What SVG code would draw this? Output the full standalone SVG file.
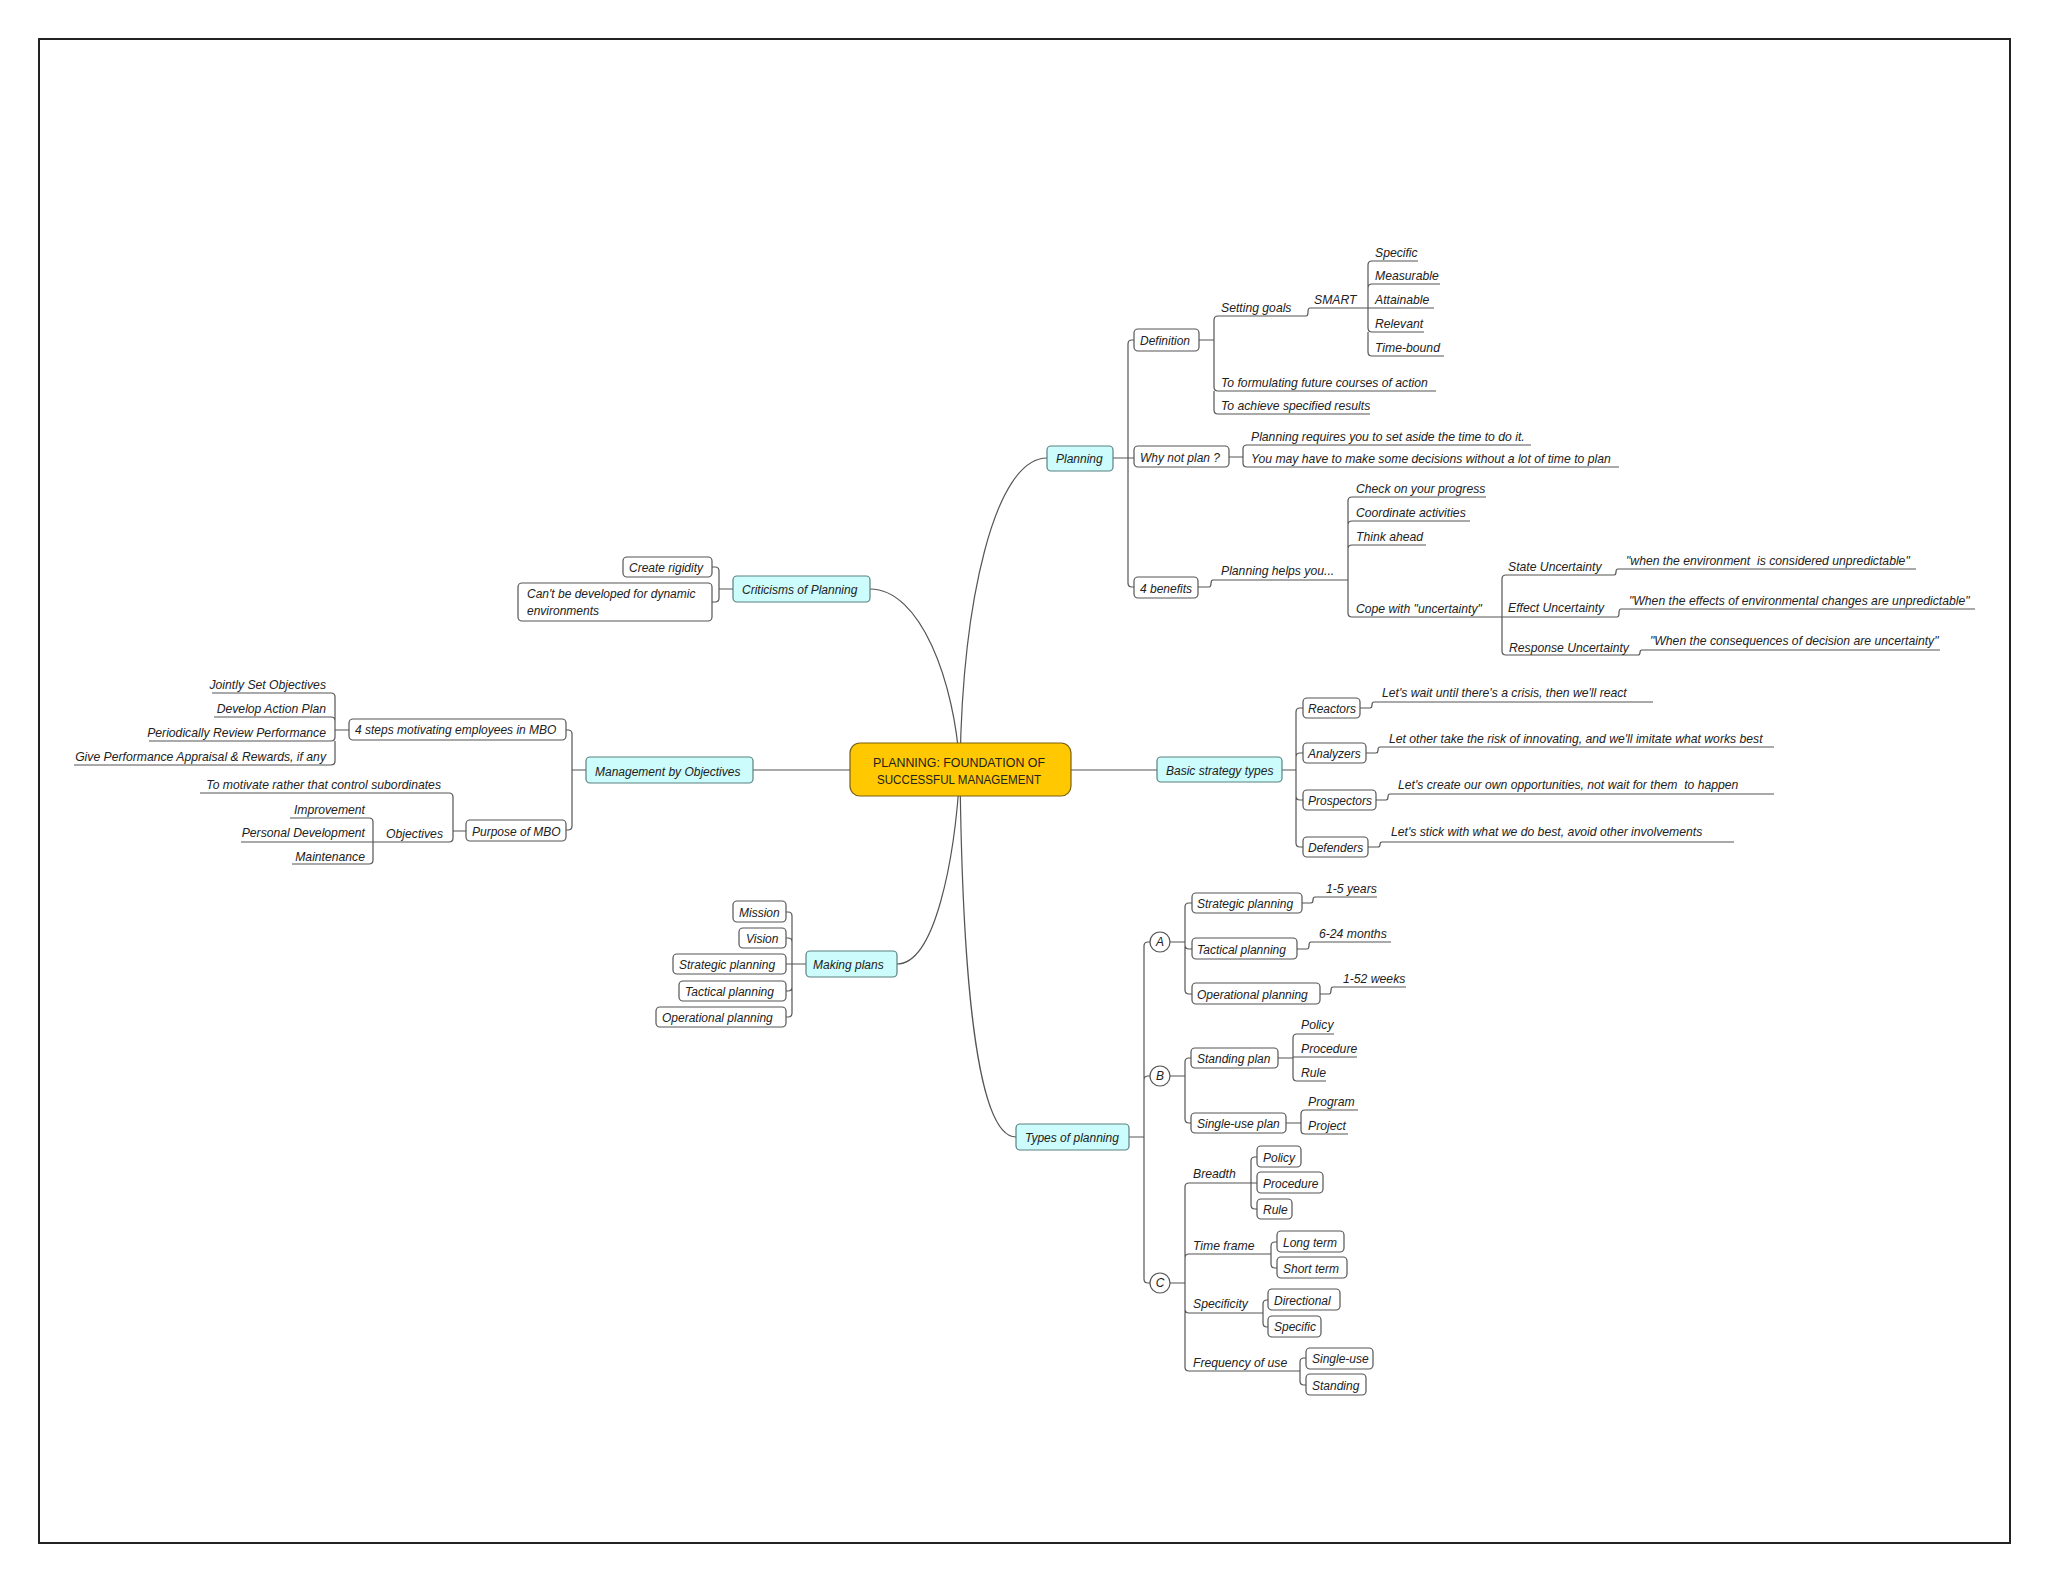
<svg xmlns="http://www.w3.org/2000/svg" width="2048" height="1582" viewBox="0 0 2048 1582">
<style>
.ln{fill:none;stroke:#555;stroke-width:1.2}
.bx{fill:#fff;stroke:#555;stroke-width:1.2}
.l1{fill:#ccfcfc;stroke:#5b8080;stroke-width:1.2}
.t{font-family:"Liberation Sans",Arial,sans-serif;font-size:12px;font-style:italic;fill:#222}
.u{font-size:12.2px}
.e{text-anchor:end}
.c{text-anchor:middle}
.ctr{font-family:"Liberation Sans",Arial,sans-serif;font-size:12.5px;fill:#222;text-anchor:middle}
</style>
<rect x="0" y="0" width="2048" height="1582" fill="#fff"/>
<rect x="39" y="39" width="1971" height="1504" fill="none" stroke="#222" stroke-width="2"/>
<g id="connectors" class="ln">
<path d="M1047,458 C995,458 962,600 960,770"/>
<path d="M870,589 C920,589 955,680 960,770"/>
<path d="M897,964 C935,964 955,860 960,770"/>
<path d="M960,770 C962,960 975,1137 1016,1137"/>
<path d="M753,770 H850"/>
<path d="M1071,770 H1157"/>
<path d="M1113,458 H1134 M1128,458 V344 Q1128,340 1132,340 H1134 M1128,458 V583 Q1128,587 1132,587 H1134"/>
<path d="M1199,340 H1214 M1214,340 V320 Q1214,316 1218,316 H1306 C1310,316 1306,308 1310,308 H1368 M1214,340 V387 Q1214,391 1218,391 H1436 M1214,391 V410 Q1214,414 1218,414 H1370"/>
<path d="M1368,308 V265 Q1368,261 1372,261 H1418 M1368,308 V288 Q1368,284 1372,284 H1440 M1368,308 H1434 M1368,308 V328 Q1368,332 1372,332 H1424 M1368,332 V352 Q1368,356 1372,356 H1444"/>
<path d="M1229,457 H1243 M1243,457 V449 Q1243,445 1247,445 H1531 M1243,457 V463 Q1243,467 1247,467 H1619"/>
<path d="M1198,587 H1209 C1213,587 1209,580 1213,580 H1348 M1348,580 V501 Q1348,497 1352,497 H1486 M1348,580 V525 Q1348,521 1352,521 H1470 M1348,580 V549 Q1348,545 1352,545 H1426 M1348,580 V613 Q1348,617 1352,617 H1502"/>
<path d="M1502,617 V579 Q1502,575 1506,575 H1614 C1618,575 1614,569 1618,569 H1916 M1502,617 H1617 C1621,617 1617,609 1621,609 H1975 M1502,617 V651 Q1502,655 1506,655 H1638 C1642,655 1638,650 1642,650 H1940"/>
<path d="M733,589 H719 M719,589 V571 Q719,567 715,567 H712 M719,589 V598 Q719,602 715,602 H712"/>
<path d="M586,770 H572 M572,770 V734 Q572,730 568,730 H566 M572,770 V826 Q572,830 568,830 H566"/>
<path d="M349,730 H335 M335,730 V697 Q335,693 331,693 H212 M335,730 V721 Q335,717 331,717 H214 M335,730 V737 Q335,741 331,741 H149 M335,741 V761 Q335,765 331,765 H74"/>
<path d="M466,831 H453 M453,831 V797 Q453,793 449,793 H200 M453,831 V838 Q453,842 449,842 H241 M373,842 V822 Q373,818 369,818 H290 M373,842 V860 Q373,864 369,864 H292"/>
<path d="M806,964 H786 M792,964 V916 Q792,912 788,912 H786 M792,964 V942 Q792,938 788,938 H786 M792,964 V987 Q792,991 788,991 H786 M792,964 V1013 Q792,1017 788,1017 H786"/>
<path d="M1282,770 H1296 M1296,770 V712 Q1296,708 1300,708 H1303 M1296,770 V757 Q1296,753 1300,753 H1303 M1296,770 V796 Q1296,800 1300,800 H1303 M1296,770 V843 Q1296,847 1300,847 H1303"/>
<path d="M1360,708 H1370 C1374,708 1370,702 1374,702 H1653 M1366,753 H1376 C1380,753 1376,747 1380,747 H1774 M1376,800 H1386 C1390,800 1386,794 1390,794 H1774 M1368,847 H1378 C1382,847 1378,842 1382,842 H1734"/>
<path d="M1129,1137 H1144 M1144,1137 V946 Q1144,942 1148,942 H1150 M1144,1137 V1080 Q1144,1076 1148,1076 H1150 M1144,1137 V1279 Q1144,1283 1148,1283 H1150"/>
<path d="M1170,942 H1185 M1185,942 V907 Q1185,903 1189,903 H1192 M1185,942 V945 Q1185,949 1189,949 H1192 M1185,942 V990 Q1185,994 1189,994 H1192"/>
<path d="M1302,903 H1311 C1315,903 1311,897 1315,897 H1377 M1297,949 H1307 C1311,949 1307,942 1311,942 H1391 M1320,994 H1329 C1333,994 1329,987 1333,987 H1406"/>
<path d="M1170,1076 H1185 M1185,1076 V1062 Q1185,1058 1189,1058 H1191 M1185,1076 V1119 Q1185,1123 1189,1123 H1191"/>
<path d="M1278,1058 H1293 M1293,1058 V1038 Q1293,1034 1297,1034 H1334 M1293,1057 H1357 M1293,1057 V1077 Q1293,1081 1297,1081 H1326"/>
<path d="M1286,1123 H1301 M1301,1123 V1114 Q1301,1110 1305,1110 H1358 M1301,1123 V1130 Q1301,1134 1305,1134 H1348"/>
<path d="M1170,1283 H1185 M1185,1283 V1187 Q1185,1183 1189,1183 H1251 M1185,1283 V1258 Q1185,1254 1189,1254 H1271 M1185,1283 V1309 Q1185,1313 1189,1313 H1263 M1185,1283 V1367 Q1185,1371 1189,1371 H1300"/>
<path d="M1251,1183 V1161 Q1251,1157 1255,1157 H1257 M1251,1183 H1257 M1251,1183 V1205 Q1251,1209 1255,1209 H1257"/>
<path d="M1271,1254 V1246 Q1271,1242 1275,1242 H1277 M1271,1254 V1264 Q1271,1268 1275,1268 H1277"/>
<path d="M1263,1313 V1304 Q1263,1300 1267,1300 H1268 M1263,1313 V1323 Q1263,1327 1267,1327 H1268"/>
<path d="M1300,1371 V1362 Q1300,1358 1304,1358 H1306 M1300,1371 V1381 Q1300,1385 1304,1385 H1306"/>
</g>

<g id="center">
<rect x="850" y="743" width="221" height="53" rx="10" fill="#ffc800" stroke="#7a6010" stroke-width="1.2"/>
<text class="ctr" x="959" y="767" textLength="172" lengthAdjust="spacingAndGlyphs">PLANNING: FOUNDATION OF</text>
<text class="ctr" x="959" y="784" textLength="164" lengthAdjust="spacingAndGlyphs">SUCCESSFUL MANAGEMENT</text>
</g>

<g id="planning"><rect class="l1" x="1047" y="446" width="66" height="25" rx="4"/><text class="t" x="1056" y="463">Planning</text></g>
<g id="definition"><rect class="bx" x="1134" y="329" width="65" height="22" rx="4"/><text class="t" x="1140" y="345">Definition</text></g>
<g id="setting-goals"><text class="t u" x="1221" y="312">Setting goals</text></g>
<g id="smart"><text class="t u" x="1314" y="304">SMART</text></g>
<g id="specific"><text class="t u" x="1375" y="257">Specific</text></g>
<g id="measurable"><text class="t u" x="1375" y="280">Measurable</text></g>
<g id="attainable"><text class="t u" x="1375" y="304">Attainable</text></g>
<g id="relevant"><text class="t u" x="1375" y="328">Relevant</text></g>
<g id="time-bound"><text class="t u" x="1375" y="352">Time-bound</text></g>
<g id="formulating"><text class="t u" x="1221" y="387">To formulating future courses of action</text></g>
<g id="achieve"><text class="t u" x="1221" y="410">To achieve specified results</text></g>
<g id="why-not"><rect class="bx" x="1134" y="446" width="95" height="21" rx="4"/><text class="t" x="1140" y="462">Why not plan ?</text></g>
<g id="requires"><text class="t u" x="1251" y="441">Planning requires you to set aside the time to do it.</text></g>
<g id="may-have"><text class="t u" x="1251" y="463">You may have to make some decisions without a lot of time to plan</text></g>
<g id="benefits"><rect class="bx" x="1134" y="577" width="64" height="21" rx="4"/><text class="t" x="1140" y="593">4 benefits</text></g>
<g id="helps"><text class="t u" x="1221" y="575">Planning helps you...</text></g>
<g id="check"><text class="t u" x="1356" y="493">Check on your progress</text></g>
<g id="coordinate"><text class="t u" x="1356" y="517">Coordinate activities</text></g>
<g id="think"><text class="t u" x="1356" y="541">Think ahead</text></g>
<g id="cope"><text class="t u" x="1356" y="613">Cope with "uncertainty"</text></g>
<g id="state-u"><text class="t u" x="1508" y="571">State Uncertainty</text></g>
<g id="state-q"><text class="t u" x="1626" y="565" xml:space="preserve">"when the environment  is considered unpredictable"</text></g>
<g id="effect-u"><text class="t u" x="1508" y="612">Effect Uncertainty</text></g>
<g id="effect-q"><text class="t u" x="1629" y="605">"When the effects of environmental changes are unpredictable"</text></g>
<g id="response-u"><text class="t u" x="1509" y="652">Response Uncertainty</text></g>
<g id="response-q"><text class="t u" x="1650" y="645">"When the consequences of decision are uncertainty"</text></g>

<g id="criticisms"><rect class="l1" x="733" y="576" width="137" height="26" rx="4"/><text class="t" x="742" y="594">Criticisms of Planning</text></g>
<g id="rigidity"><rect class="bx" x="623" y="557" width="89" height="20" rx="4"/><text class="t" x="629" y="572">Create rigidity</text></g>
<g id="dynamic"><rect class="bx" x="518" y="583" width="194" height="38" rx="4"/><text class="t" x="527" y="598">Can't be developed for dynamic</text><text class="t" x="527" y="615">environments</text></g>

<g id="mbo"><rect class="l1" x="586" y="757" width="167" height="26" rx="4"/><text class="t" x="595" y="776">Management by Objectives</text></g>
<g id="four-steps"><rect class="bx" x="349" y="719" width="217" height="21" rx="4"/><text class="t" x="355" y="734">4 steps motivating employees in MBO</text></g>
<g id="jointly"><text class="t u e" x="326" y="689">Jointly Set Objectives</text></g>
<g id="develop"><text class="t u e" x="326" y="713">Develop Action Plan</text></g>
<g id="review"><text class="t u e" x="326" y="737">Periodically Review Performance</text></g>
<g id="appraisal"><text class="t u e" x="326" y="761">Give Performance Appraisal &amp; Rewards, if any</text></g>
<g id="purpose"><rect class="bx" x="466" y="820" width="100" height="21" rx="4"/><text class="t" x="472" y="836">Purpose of MBO</text></g>
<g id="motivate"><text class="t u e" x="441" y="789">To motivate rather that control subordinates</text></g>
<g id="objectives"><text class="t u e" x="443" y="838">Objectives</text></g>
<g id="improvement"><text class="t u e" x="365" y="814">Improvement</text></g>
<g id="personal"><text class="t u e" x="365" y="837">Personal Development</text></g>
<g id="maintenance"><text class="t u e" x="365" y="861">Maintenance</text></g>

<g id="making"><rect class="l1" x="806" y="951" width="91" height="26" rx="4"/><text class="t" x="813" y="969">Making plans</text></g>
<g id="mission"><rect class="bx" x="733" y="901" width="53" height="21" rx="4"/><text class="t" x="739" y="917">Mission</text></g>
<g id="vision"><rect class="bx" x="739" y="928" width="47" height="20" rx="4"/><text class="t" x="746" y="943">Vision</text></g>
<g id="mp-strategic"><rect class="bx" x="673" y="954" width="113" height="20" rx="4"/><text class="t" x="679" y="969">Strategic planning</text></g>
<g id="mp-tactical"><rect class="bx" x="679" y="981" width="107" height="20" rx="4"/><text class="t" x="685" y="996">Tactical planning</text></g>
<g id="mp-operational"><rect class="bx" x="656" y="1007" width="130" height="20" rx="4"/><text class="t" x="662" y="1022">Operational planning</text></g>

<g id="strategy"><rect class="l1" x="1157" y="757" width="125" height="25" rx="4"/><text class="t" x="1166" y="775">Basic strategy types</text></g>
<g id="reactors"><rect class="bx" x="1303" y="698" width="57" height="20" rx="4"/><text class="t" x="1308" y="713">Reactors</text></g>
<g id="analyzers"><rect class="bx" x="1303" y="743" width="63" height="20" rx="4"/><text class="t" x="1308" y="758">Analyzers</text></g>
<g id="prospectors"><rect class="bx" x="1303" y="790" width="73" height="20" rx="4"/><text class="t" x="1308" y="805">Prospectors</text></g>
<g id="defenders"><rect class="bx" x="1303" y="837" width="65" height="20" rx="4"/><text class="t" x="1308" y="852">Defenders</text></g>
<g id="reactors-q"><text class="t u" x="1382" y="697">Let's wait until there's a crisis, then we'll react</text></g>
<g id="analyzers-q"><text class="t u" x="1389" y="743">Let other take the risk of innovating, and we'll imitate what works best</text></g>
<g id="prospectors-q"><text class="t u" x="1398" y="789" xml:space="preserve">Let's create our own opportunities, not wait for them  to happen</text></g>
<g id="defenders-q"><text class="t u" x="1391" y="836">Let's stick with what we do best, avoid other involvements</text></g>

<g id="types"><rect class="l1" x="1016" y="1124" width="113" height="26" rx="4"/><text class="t" x="1025" y="1142">Types of planning</text></g>
<g id="a"><circle class="bx" cx="1160" cy="942" r="10"/><text class="t c" x="1160" y="946">A</text></g>
<g id="b"><circle class="bx" cx="1160" cy="1076" r="10"/><text class="t c" x="1160" y="1080">B</text></g>
<g id="c"><circle class="bx" cx="1160" cy="1283" r="10"/><text class="t c" x="1160" y="1287">C</text></g>
<g id="tp-strategic"><rect class="bx" x="1192" y="893" width="110" height="20" rx="4"/><text class="t" x="1197" y="908">Strategic planning</text></g>
<g id="tp-tactical"><rect class="bx" x="1192" y="938" width="105" height="21" rx="4"/><text class="t" x="1197" y="954">Tactical planning</text></g>
<g id="tp-operational"><rect class="bx" x="1192" y="983" width="128" height="21" rx="4"/><text class="t" x="1197" y="999">Operational planning</text></g>
<g id="years"><text class="t u" x="1326" y="893">1-5 years</text></g>
<g id="months"><text class="t u" x="1319" y="938">6-24 months</text></g>
<g id="weeks"><text class="t u" x="1343" y="983">1-52 weeks</text></g>
<g id="standing-plan"><rect class="bx" x="1191" y="1048" width="87" height="20" rx="4"/><text class="t" x="1197" y="1063">Standing plan</text></g>
<g id="single-plan"><rect class="bx" x="1191" y="1113" width="95" height="20" rx="4"/><text class="t" x="1197" y="1128">Single-use plan</text></g>
<g id="sp-policy"><text class="t u" x="1301" y="1029">Policy</text></g>
<g id="sp-procedure"><text class="t u" x="1301" y="1053">Procedure</text></g>
<g id="sp-rule"><text class="t u" x="1301" y="1077">Rule</text></g>
<g id="program"><text class="t u" x="1308" y="1106">Program</text></g>
<g id="project"><text class="t u" x="1308" y="1130">Project</text></g>
<g id="breadth"><text class="t u" x="1193" y="1178">Breadth</text></g>
<g id="b-policy"><rect class="bx" x="1257" y="1146" width="44" height="21" rx="4"/><text class="t" x="1263" y="1162">Policy</text></g>
<g id="b-procedure"><rect class="bx" x="1257" y="1172" width="66" height="21" rx="4"/><text class="t" x="1263" y="1188">Procedure</text></g>
<g id="b-rule"><rect class="bx" x="1257" y="1199" width="35" height="20" rx="4"/><text class="t" x="1263" y="1214">Rule</text></g>
<g id="time-frame"><text class="t u" x="1193" y="1250">Time frame</text></g>
<g id="long-term"><rect class="bx" x="1277" y="1231" width="67" height="21" rx="4"/><text class="t" x="1283" y="1247">Long term</text></g>
<g id="short-term"><rect class="bx" x="1277" y="1257" width="70" height="21" rx="4"/><text class="t" x="1283" y="1273">Short term</text></g>
<g id="specificity"><text class="t u" x="1193" y="1308">Specificity</text></g>
<g id="directional"><rect class="bx" x="1268" y="1289" width="72" height="21" rx="4"/><text class="t" x="1274" y="1305">Directional</text></g>
<g id="s-specific"><rect class="bx" x="1268" y="1316" width="53" height="21" rx="4"/><text class="t" x="1274" y="1331">Specific</text></g>
<g id="frequency"><text class="t u" x="1193" y="1367">Frequency of use</text></g>
<g id="single-use"><rect class="bx" x="1306" y="1348" width="67" height="21" rx="4"/><text class="t" x="1312" y="1363">Single-use</text></g>
<g id="standing"><rect class="bx" x="1306" y="1374" width="60" height="21" rx="4"/><text class="t" x="1312" y="1390">Standing</text></g>
</svg>
